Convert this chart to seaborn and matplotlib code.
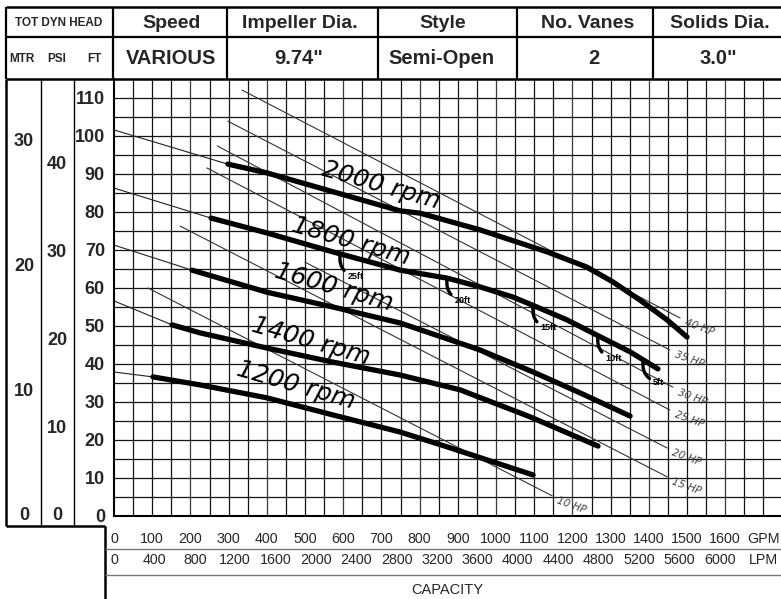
import numpy as np
import pandas as pd
import matplotlib
matplotlib.use('Agg')
import matplotlib.pyplot as plt
import matplotlib.transforms as mtransforms
from matplotlib.lines import Line2D
import seaborn as sns

sns.set_theme(style='white')
plt.rcParams['font.family'] = ['Liberation Sans', 'DejaVu Sans']

# ---------------- data ----------------
rpm_labels = ['2000 rpm', '1800 rpm', '1600 rpm', '1400 rpm', '1200 rpm']
gpm_2000 = [298, 400, 749, 801, 958, 1134, 1238, 1306, 1377, 1448, 1500]
ft_2000 = [92.6, 90.3, 80.3, 79.7, 75.3, 69.5, 65.5, 61.6, 56.8, 51.6, 47.1]
gpm_1800 = [254, 400, 573, 749, 872, 958, 1045, 1107, 1186, 1264, 1351, 1424]
ft_1800 = [78.4, 74.5, 69.5, 64.7, 62.6, 60.3, 57.6, 55.0, 51.6, 47.6, 43.2, 38.7]
gpm_1600 = [204, 400, 573, 749, 958, 1097, 1220, 1351]
ft_1600 = [64.7, 58.9, 55.0, 50.8, 43.7, 37.9, 32.4, 26.3]
gpm_1400 = [152, 225, 400, 573, 749, 906, 1089, 1267]
ft_1400 = [50.3, 48.2, 44.2, 40.5, 37.1, 33.2, 26.1, 18.4]
gpm_1200 = [102, 225, 400, 573, 749, 872, 1097]
ft_1200 = [36.6, 34.5, 31.1, 26.6, 22.1, 18.2, 10.8]
shutoff_ft = [101.6, 86.3, 71.3, 56.6, 37.9]          # head at 0 GPM (thin extensions)
label_gpm = [700, 620, 575, 515, 476]                  # rpm label centres
label_ft = [87.0, 72.4, 60.3, 46.1, 34.5]

hp_labels = ['40 HP', '35 HP', '30 HP', '25 HP', '20 HP', '15 HP', '10 HP']
hp_start_gpm = [335, 298, 270, 243, 500, 173, 89]
hp_start_ft = [112.1, 103.9, 97.4, 91.6, 66.8, 76.3, 60.0]
hp_end_gpm = [1482, 1455, 1463, 1455, 1448, 1448, 1147]
hp_end_ft = [52.1, 43.7, 33.9, 27.9, 17.9, 10.3, 5.3]

npsh_labels = ['25ft', '20ft', '15ft', '10ft', '5ft']
npsh_gpm = [592, 872, 1097, 1267, 1385]

gpm_ticks = list(range(0, 1601, 100))
lpm_ticks = list(range(0, 6001, 400))
ft_ticks = list(range(0, 111, 10))
mtr_ticks = [0, 10, 20, 30]
psi_ticks = [0, 10, 20, 30, 40]

header_titles = ['Speed', 'Impeller Dia.', 'Style', 'No. Vanes', 'Solids Dia.']
header_values = ['VARIOUS', '9.74"', 'Semi-Open', '2', '3.0"']

# ---------------- figure / layout ----------------
W, H = 781, 599
fig = plt.figure(figsize=(W / 100, H / 100), dpi=100)
fig.patch.set_facecolor('white')

def fx(p):
    return p / W

def fy(p):
    return 1 - p / H

def hline(y, x0, x1, lw=1.6, color='black'):
    fig.add_artist(Line2D([fx(x0), fx(x1)], [fy(y), fy(y)], transform=fig.transFigure,
                          color=color, lw=lw, solid_capstyle='butt'))

def vline(x, y0, y1, lw=1.6, color='black'):
    fig.add_artist(Line2D([fx(x), fx(x)], [fy(y0), fy(y1)], transform=fig.transFigure,
                          color=color, lw=lw, solid_capstyle='butt'))

ax_left, ax_right, ax_top, ax_bot = 114, 781, 79, 516
ax = fig.add_axes([fx(ax_left), fy(ax_bot), (ax_right - ax_left) / W, (ax_bot - ax_top) / H])
ax.set_xlim(0, 1746)
ax.set_ylim(0, 115)
ax.set_facecolor('white')

# grid
for g in range(50, 1701, 50):
    ax.axvline(g, color='#151515' if g % 200 else '#3a3a3a', lw=0.9, zorder=0.5)
for h in range(5, 115, 5):
    ax.axhline(h, color='#151515', lw=0.9, zorder=0.5)

for s in ['top', 'right']:
    ax.spines[s].set_visible(False)
for s in ['left', 'bottom']:
    ax.spines[s].set_color('black')
    ax.spines[s].set_linewidth(1.5)

ax.set_xticks(gpm_ticks)
ax.set_xticklabels([])
ax.tick_params(axis='x', length=8, width=1.0, color='#333333', direction='out')
ax.set_yticks(ft_ticks)
ax.set_yticklabels([str(v) for v in ft_ticks], fontsize=13, fontweight='bold')
ax.tick_params(axis='y', length=6.5, width=1.0, color='black', direction='out', pad=0)

# ---------------- thin lines: extensions + HP lines ----------------
curves_gpm = [gpm_2000, gpm_1800, gpm_1600, gpm_1400, gpm_1200]
curves_ft = [ft_2000, ft_1800, ft_1600, ft_1400, ft_1200]

ext_rows = []
for lab, g, f, s in zip(rpm_labels, curves_gpm, curves_ft, shutoff_ft):
    ext_rows += [(lab, 0, s), (lab, g[0], f[0])]
ext_df = pd.DataFrame(ext_rows, columns=['rpm', 'gpm', 'ft'])
sns.lineplot(data=ext_df, x='gpm', y='ft', units='rpm', estimator=None, sort=False,
             color='#222222', lw=0.8, ax=ax, zorder=2)

hp_rows = []
for lab, g0, f0, g1, f1 in zip(hp_labels, hp_start_gpm, hp_start_ft, hp_end_gpm, hp_end_ft):
    hp_rows += [(lab, g0, f0), (lab, g1, f1)]
hp_df = pd.DataFrame(hp_rows, columns=['hp', 'gpm', 'ft'])
sns.lineplot(data=hp_df, x='gpm', y='ft', units='hp', estimator=None, sort=False,
             color='#333333', lw=0.8, ax=ax, zorder=2)
for lab, g1, f1 in zip(hp_labels, hp_end_gpm, hp_end_ft):
    ax.annotate(lab, xy=(g1, f1), xytext=(14, -7), textcoords='offset points',
                ha='center', va='center', rotation=-20, fontsize=7.5,
                family='DejaVu Sans', style='italic', color='#444444', zorder=4)

# ---------------- thick pump curves ----------------
rows = []
for lab, g, f in zip(rpm_labels, curves_gpm, curves_ft):
    rows += [(lab, gg, ff) for gg, ff in zip(g, f)]
curve_df = pd.DataFrame(rows, columns=['rpm', 'gpm', 'ft'])
sns.lineplot(data=curve_df, x='gpm', y='ft', units='rpm', estimator=None, sort=False,
             color='black', lw=3.8, ax=ax, zorder=3)
ax.set_xlabel('')
ax.set_ylabel('')

for lab, g, f in zip(rpm_labels, label_gpm, label_ft):
    ax.text(g, f, lab, ha='center', va='center', rotation=-16, rotation_mode='anchor',
            fontsize=18, family='DejaVu Sans', style='italic', color='black', zorder=4)

# NPSH hooks on the 1800 rpm curve
for lab, g in zip(npsh_labels, npsh_gpm):
    f = float(np.interp(g, gpm_1800, ft_1800))
    ax.annotate(lab, xy=(g, f), xytext=(11, -13), textcoords='offset points',
                ha='center', va='top', fontsize=6.5, fontweight='bold', color='black',
                arrowprops=dict(arrowstyle='-', lw=2.4, color='black', shrinkA=0, shrinkB=0,
                                connectionstyle='arc3,rad=-0.45'), zorder=4)

# ---------------- axis labels below ----------------
tx = mtransforms.blended_transform_factory(ax.transData, fig.transFigure)
for g in gpm_ticks:
    ax.text(g, fy(539), str(g), transform=tx, ha='center', va='center', fontsize=10.3,
            clip_on=False)
ax.text(1700, fy(539), 'GPM', transform=tx, ha='center', va='center', fontsize=10.3, clip_on=False)
for l in lpm_ticks:
    ax.text(l / 3.785, fy(560), str(l), transform=tx, ha='center', va='center', fontsize=10.3,
            clip_on=False)
ax.text(1700, fy(560), 'LPM', transform=tx, ha='center', va='center', fontsize=10.3, clip_on=False)
fig.text(fx(447), fy(590), 'CAPACITY', ha='center', va='center', fontsize=10.5)

# left scales (MTR / PSI)
ty = mtransforms.blended_transform_factory(fig.transFigure, ax.transData)
for m in mtr_ticks:
    ax.text(fx(24), m * 3.281, str(m), transform=ty, ha='center', va='center', fontsize=13,
            fontweight='bold', clip_on=False)
for p in psi_ticks:
    ax.text(fx(57), p * 2.31, str(p), transform=ty, ha='center', va='center', fontsize=13,
            fontweight='bold', clip_on=False)

# ---------------- header table and frames ----------------
top, mid, bot = 7, 37, 79
hline(top, 6, 781, lw=1.8)
hline(mid, 6, 781, lw=1.6)
hline(bot, 6, 781, lw=1.8)
for x in [6, 113, 227, 378, 517, 653]:
    vline(x, top, bot, lw=1.6)
# left panel
vline(6, bot, 526, lw=1.8)
vline(41, bot, 526, lw=1.0)
vline(74, bot, 526, lw=1.0)
hline(526, 6, 105, lw=1.8)
vline(105, 526, 599, lw=1.8)
hline(549, 105, 781, lw=1.0, color='#777777')
hline(575, 105, 781, lw=1.0, color='#777777')

title_x = [172, 300, 443, 588, 720]
value_x = [171, 299, 441, 594, 718]
for t, x in zip(header_titles, title_x):
    fig.text(fx(x), fy((top + mid) / 2 + 1), t, ha='center', va='center', fontsize=14,
             fontweight='bold')
for v, x in zip(header_values, value_x):
    fig.text(fx(x), fy((mid + bot) / 2 + 1), v, ha='center', va='center', fontsize=14.5,
             fontweight='bold')
fig.text(fx(59), fy((top + mid) / 2 + 1), 'TOT DYN HEAD', ha='center', va='center',
         fontsize=8.5, fontweight='bold')
for t, x in zip(['MTR', 'PSI', 'FT'], [22, 57, 94]):
    fig.text(fx(x), fy((mid + bot) / 2 + 1), t, ha='center', va='center', fontsize=8.5,
             fontweight='bold')

fig.savefig('out.png', dpi=100, facecolor='white')
